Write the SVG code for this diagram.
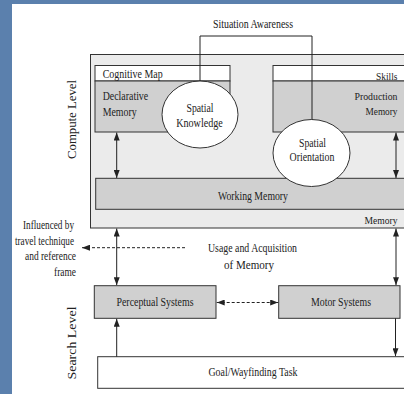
<svg xmlns="http://www.w3.org/2000/svg" width="404" height="394" viewBox="0 0 404 394">
<style>
text{font-family:"Liberation Serif","Times New Roman",serif;font-size:12px;fill:#222}
.m{text-anchor:middle}
.e{text-anchor:end}
.s{font-size:11px}
.box{stroke:#333;stroke-width:1}
.g{fill:#d0d0d0}
.w{fill:#fff}
.c{fill:none;stroke:#222;stroke-width:1}
.d{stroke-dasharray:3,2}
</style>
<defs>
<marker id="ah" markerUnits="userSpaceOnUse" markerWidth="8" markerHeight="6" refX="8" refY="3" orient="auto-start-reverse">
<path d="M0,0 L8,3 L0,6 z" fill="#222"/>
</marker>
</defs>
<rect x="0" y="0" width="404" height="394" fill="#5b80ad"/>
<rect x="12" y="4" width="392" height="390" fill="#fff"/>

<g id="situation-awareness"><text class="m" x="253" y="28" textLength="80" lengthAdjust="spacingAndGlyphs">Situation Awareness</text></g>

<g id="memory"><rect class="box" x="90.5" y="54.5" width="314.1" height="173.5" fill="#ebebeb"/>
<text class="e s" x="397.5" y="224" textLength="33" lengthAdjust="spacingAndGlyphs">Memory</text></g>

<g id="cognitive-map"><rect class="box w" x="95" y="65.5" width="135" height="15.5"/>
<rect class="box g" x="95" y="81" width="135" height="51"/>
<text x="102.7" y="77.5" textLength="60" lengthAdjust="spacingAndGlyphs">Cognitive Map</text>
<text x="102.7" y="100" textLength="45.5" lengthAdjust="spacingAndGlyphs">Declarative</text>
<text x="102.7" y="115.5" textLength="34" lengthAdjust="spacingAndGlyphs">Memory</text></g>

<g id="skills"><rect class="box w" x="273" y="65.5" width="131.6" height="15.5"/>
<rect class="box g" x="273" y="81" width="131.6" height="51"/>
<text class="e s" x="397.5" y="79.5" textLength="21.5" lengthAdjust="spacingAndGlyphs">Skills</text>
<text class="e s" x="397.5" y="100" textLength="43" lengthAdjust="spacingAndGlyphs">Production</text>
<text class="e s" x="397.5" y="115" textLength="32" lengthAdjust="spacingAndGlyphs">Memory</text></g>

<g id="working-memory"><rect class="box g" x="95.7" y="178.3" width="308.9" height="31"/>
<text class="m" x="253" y="200" textLength="70" lengthAdjust="spacingAndGlyphs">Working Memory</text></g>

<g id="spatial-knowledge"><ellipse class="box w" cx="200" cy="114.5" rx="38" ry="33.5"/>
<text class="m" x="200" y="112" textLength="27" lengthAdjust="spacingAndGlyphs">Spatial</text>
<text class="m" x="199.5" y="127" textLength="46.5" lengthAdjust="spacingAndGlyphs">Knowledge</text></g>

<g id="spatial-orientation"><ellipse class="box w" cx="311.5" cy="153" rx="38.5" ry="33.5"/>
<text class="m" x="312.5" y="146.5" textLength="27" lengthAdjust="spacingAndGlyphs">Spatial</text>
<text class="m" x="312" y="161" textLength="45" lengthAdjust="spacingAndGlyphs">Orientation</text></g>

<g id="compute-level"><text class="m" transform="translate(75.5,119.5) rotate(-90)" x="0" y="0" textLength="79" lengthAdjust="spacingAndGlyphs">Compute  Level</text></g>
<g id="search-level"><text class="m" transform="translate(75.5,343) rotate(-90)" x="0" y="0" textLength="73" lengthAdjust="spacingAndGlyphs">Search Level</text></g>

<g id="influenced"><text class="e" x="74" y="229" textLength="51" lengthAdjust="spacingAndGlyphs">Influenced by</text>
<text class="e" x="74" y="245" textLength="59" lengthAdjust="spacingAndGlyphs">travel technique</text>
<text class="e" x="76" y="260" textLength="51" lengthAdjust="spacingAndGlyphs">and reference</text>
<text class="e" x="76" y="275.5" textLength="22" lengthAdjust="spacingAndGlyphs">frame</text></g>

<g id="usage"><text class="m" x="252.5" y="252" textLength="89" lengthAdjust="spacingAndGlyphs">Usage and Acquisition</text>
<text class="m" x="249" y="269" textLength="50" lengthAdjust="spacingAndGlyphs">of Memory</text></g>

<g id="perceptual-systems"><rect class="box g" x="94.3" y="285.7" width="121.7" height="32.6"/>
<text class="m" x="155" y="306" textLength="77" lengthAdjust="spacingAndGlyphs">Perceptual Systems</text></g>

<g id="motor-systems"><rect class="box g" x="278.7" y="285.7" width="121.3" height="32.6"/>
<text class="m" x="341" y="306" textLength="60" lengthAdjust="spacingAndGlyphs">Motor Systems</text></g>

<g id="goal"><rect class="box w" x="97.7" y="356.7" width="306.9" height="31.6"/>
<text class="m" x="253" y="376" textLength="89" lengthAdjust="spacingAndGlyphs">Goal/Wayfinding Task</text></g>

<g id="connectors">
<path class="c" d="M200,81 V36 H312 V119.5"/>
<path class="c" d="M116.7,132.5 V178" marker-start="url(#ah)" marker-end="url(#ah)"/>
<path class="c" d="M396,132.5 V178" marker-start="url(#ah)" marker-end="url(#ah)"/>
<path class="c" d="M116.7,228.5 V285.2" marker-start="url(#ah)" marker-end="url(#ah)"/>
<path class="c" d="M396,228.5 V285.2" marker-start="url(#ah)" marker-end="url(#ah)"/>
<path class="c d" d="M185,247.7 H82" marker-end="url(#ah)"/>
<path class="c d" d="M216.7,302.5 H278.2" marker-start="url(#ah)" marker-end="url(#ah)"/>
<path class="c" d="M116.7,356.7 V318.8" marker-end="url(#ah)"/>
<path class="c" d="M395.5,318.3 V356.2" marker-end="url(#ah)"/>
</g>
</svg>
